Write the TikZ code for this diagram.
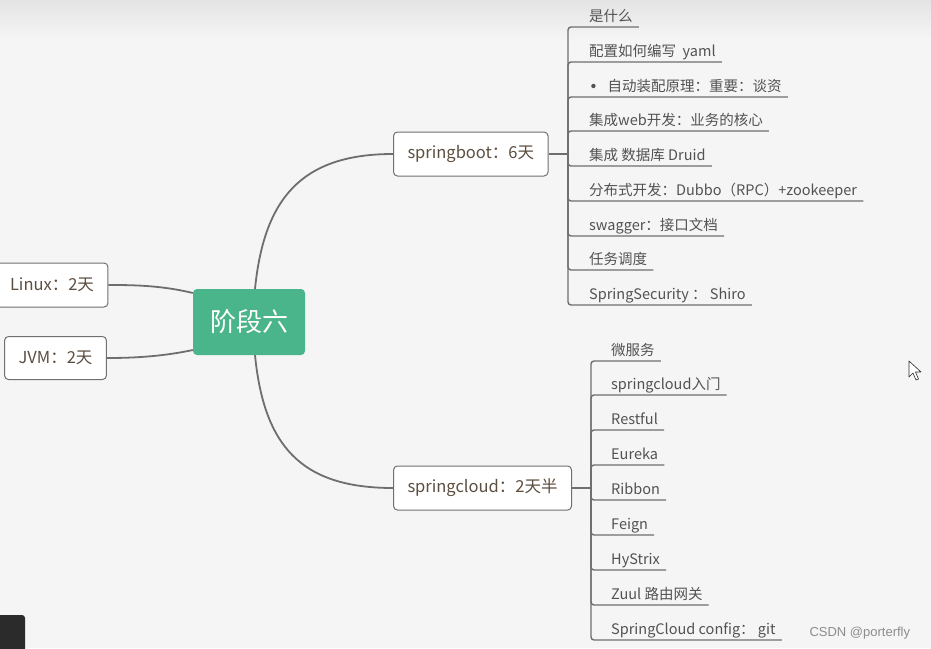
\documentclass[tikz,border=0pt]{standalone}
\usepackage{fontspec}
\setmainfont{Noto Sans CJK SC}
\newfontfamily\wmfont{Liberation Sans}
\usetikzlibrary{positioning, calc}
\definecolor{pagebg}{RGB}{245, 245, 245}
\definecolor{topshade}{RGB}{228, 228, 228}
\definecolor{stagegreen}{RGB}{74, 180, 138}
\definecolor{linegray}{RGB}{110, 110, 110}
\definecolor{boxline}{RGB}{112, 112, 112}
\definecolor{topictext}{RGB}{92, 78, 64}
\definecolor{leaftext}{RGB}{82, 82, 82}
\definecolor{markgray}{RGB}{140, 140, 140}
\definecolor{tabdark}{RGB}{43, 43, 43}
\newcommand{\leafdot}{\raisebox{0.25em}{\tikz\fill[leaftext] (0,0) circle (2.2pt);}}
\tikzset{
  stagebox/.style={fill=stagegreen, rounded corners=4pt, minimum width=112pt,
    minimum height=66pt, font=\fontsize{26}{30}\selectfont, text=white},
  topicbox/.style={draw=boxline, line width=1pt, fill=white, rounded corners=4pt,
    minimum height=44pt, inner xsep=14pt, font=\fontsize{16.5}{19}\selectfont, text=topictext},
  leaf/.style={anchor=south west, inner xsep=0pt, inner ysep=2pt, text depth=0.3em,
    font=\fontsize{14.5}{17}\selectfont, text=leaftext},
  branch/.style={draw=linegray, line width=1.8pt},
  leafline/.style={draw=linegray, line width=1.4pt, rounded corners=3pt},
}

\begin{document}
\begin{tikzpicture}[x=1pt, y=-1pt]
  \useasboundingbox (0,0) rectangle (931,648);
  \fill[pagebg] (0,0) rectangle (931,648);
  \shade[top color=topshade, bottom color=pagebg] (0,0) rectangle (931,40);

  % Center and topics
  \node[stagebox] (stage) at (249,322) {阶段六};
  \node[topicbox, minimum width=106pt] (linux) at (52,285) {Linux：2天};
  \node[topicbox, minimum width=99pt, minimum height=43pt] (jvm) at (55.5,358) {JVM：2天};
  \node[topicbox, anchor=west] (boot) at (393,154) {springboot：6天};
  \node[topicbox, anchor=west] (cloud) at (393,488) {springcloud：2天半};

  \draw[branch] ([xshift=6pt]stage.north) .. controls (264,200) and (300,154) .. (boot.west);
  \draw[branch] ([xshift=6pt]stage.south) .. controls (264,445) and (300,488) .. (cloud.west);
  \draw[branch] ([yshift=29pt]stage.west) .. controls (160,285) and (130,285) .. (linux.east);
  \draw[branch] ([yshift=-28pt]stage.west) .. controls (160,357) and (130,358) .. (jvm.east);

  % springboot leaves
  \coordinate (boottrunk) at (568,154);
  \draw[branch] (boot.east) -- (boottrunk);
  \node[leaf] (b1) at (589,27) {是什么};
  \node[leaf] (b2) at (589,62) {配置如何编写\ \ yaml};
  \node[leaf] (b3) at (589,97) {\hspace{2pt}\leafdot\hspace{12pt}自动装配原理：重要：谈资};
  \node[leaf] (b4) at (589,131) {集成web开发：业务的核心};
  \node[leaf] (b5) at (589,166) {集成 数据库 Druid};
  \node[leaf] (b6) at (589,201) {分布式开发：Dubbo（RPC）+zookeeper};
  \node[leaf] (b7) at (589,236) {swagger：接口文档};
  \node[leaf] (b8) at (589,270) {任务调度};
  \node[leaf] (b9) at (589,305) {SpringSecurity ： Shiro};
  \draw[leafline] (boottrunk) |- ([xshift=6pt]b1.south east);
  \draw[leafline] (boottrunk) |- ([xshift=6pt]b2.south east);
  \draw[leafline] (boottrunk) |- ([xshift=6pt]b3.south east);
  \draw[leafline] (boottrunk) |- ([xshift=6pt]b4.south east);
  \draw[leafline] (boottrunk) |- ([xshift=6pt]b5.south east);
  \draw[leafline] (boottrunk) |- ([xshift=6pt]b6.south east);
  \draw[leafline] (boottrunk) |- ([xshift=6pt]b7.south east);
  \draw[leafline] (boottrunk) |- ([xshift=6pt]b8.south east);
  \draw[leafline] (boottrunk) |- ([xshift=6pt]b9.south east);

  % springcloud leaves
  \coordinate (cloudtrunk) at (591,488);
  \draw[branch] (cloud.east) -- (cloudtrunk);
  \node[leaf] (c1) at (611,361) {微服务};
  \node[leaf] (c2) at (611,395) {springcloud入门};
  \node[leaf] (c3) at (611,430) {Restful};
  \node[leaf] (c4) at (611,465) {Eureka};
  \node[leaf] (c5) at (611,500) {Ribbon};
  \node[leaf] (c6) at (611,535) {Feign};
  \node[leaf] (c7) at (611,570) {HyStrix};
  \node[leaf] (c8) at (611,605) {Zuul 路由网关};
  \node[leaf] (c9) at (611,640) {SpringCloud config： git};
  \draw[leafline] (cloudtrunk) |- ([xshift=6pt]c1.south east);
  \draw[leafline] (cloudtrunk) |- ([xshift=6pt]c2.south east);
  \draw[leafline] (cloudtrunk) |- ([xshift=6pt]c3.south east);
  \draw[leafline] (cloudtrunk) |- ([xshift=6pt]c4.south east);
  \draw[leafline] (cloudtrunk) |- ([xshift=6pt]c5.south east);
  \draw[leafline] (cloudtrunk) |- ([xshift=6pt]c6.south east);
  \draw[leafline] (cloudtrunk) |- ([xshift=6pt]c7.south east);
  \draw[leafline] (cloudtrunk) |- ([xshift=6pt]c8.south east);
  \draw[leafline] (cloudtrunk) |- ([xshift=6pt]c9.south east);

  % Screen leftovers
  \node[anchor=base west, font=\wmfont\fontsize{13}{15}\selectfont, text=markgray] (mark) at (806,636) {CSDN @porterfly};
  \fill[tabdark, rounded corners=3pt] (-5,615) -- (25,615) -- (25,655) -- (-5,655) -- cycle;
  \filldraw[fill=white, draw=tabdark, line width=0.6pt, line join=round]
    (909,361) -- (909,377) -- (913,373) -- (916,380) -- (918.5,379) -- (915.5,372) -- (921,372) -- cycle;
\end{tikzpicture}
\end{document}
